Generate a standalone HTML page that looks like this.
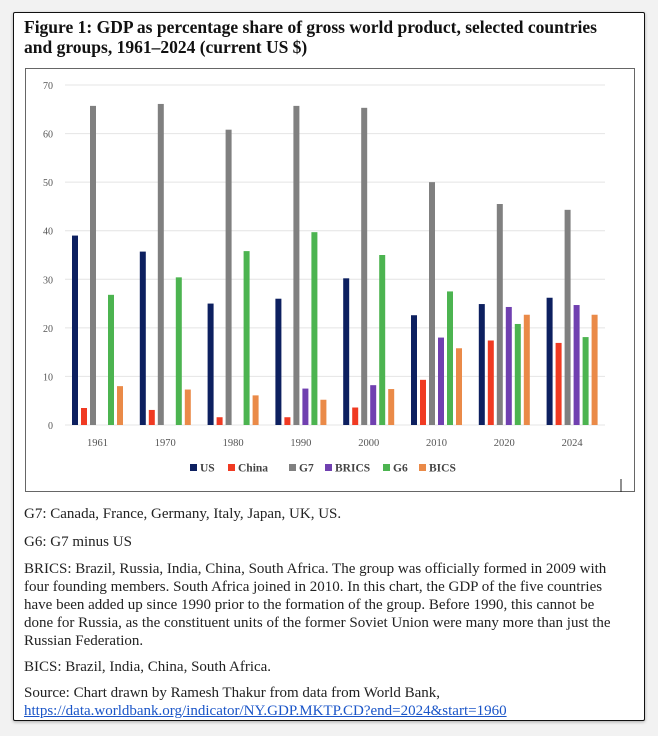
<!DOCTYPE html>
<html><head><meta charset="utf-8"><style>
body{margin:0;background:#f2f2f2;width:658px;height:736px;overflow:hidden;font-family:"Liberation Serif",serif;}
#frame{position:absolute;left:13px;top:12px;width:630px;height:707px;background:#fff;border:1.5px solid #111;border-radius:2px;box-shadow:0 1px 3px rgba(0,0,0,.3);}
#title{position:absolute;left:10px;top:4px;width:640px;white-space:nowrap;font-weight:bold;font-size:17.5px;line-height:20px;color:#111;}
#chartbox{position:absolute;left:11px;top:55px;width:608px;height:422px;border:1px solid #666;}
.note{position:absolute;left:10px;width:640px;white-space:nowrap;font-size:15px;letter-spacing:0px;line-height:18px;color:#222;}
a{color:#1a55c8;}
</style></head><body>
<div id="frame">
<div id="title">Figure 1: GDP as percentage share of gross world product, selected countries<br>and groups, 1961–2024 (current US $)</div>
<div id="chartbox"></div>
<div class="note" style="top:492px">G7: Canada, France, Germany, Italy, Japan, UK, US.</div>
<div class="note" style="top:520px">G6: G7 minus US</div>
<div class="note" style="top:547px">BRICS: Brazil, Russia, India, China, South Africa. The group was officially formed in 2009 with<br>four founding members. South Africa joined in 2010. In this chart, the GDP of the five countries<br>have been added up since 1990 prior to the formation of the group. Before 1990, this cannot be<br>done for Russia, as the constituent units of the former Soviet Union were many more than just the<br>Russian Federation.</div>
<div class="note" style="top:645px">BICS: Brazil, India, China, South Africa.</div>
<div class="note" style="top:671px">Source: Chart drawn by Ramesh Thakur from data from World Bank,<br><a style="text-decoration:underline">https://data.worldbank.org/indicator/NY.GDP.MKTP.CD?end=2024&amp;start=1960</a></div>
</div>
<svg id="chart" width="658" height="736" style="position:absolute;left:0;top:0"></svg>
<script>
const categories=["1961","1970","1980","1990","2000","2010","2020","2024"];
const seriesNames=["US","China","G7","BRICS","G6","BICS"];
const seriesColors=["#0d2060","#f03a22","#808080","#7040b0","#4cb450","#ea8a48"];
const usVals=[39,35.7,25,26,30.2,22.6,24.9,26.2];
const chinaVals=[3.5,3.1,1.6,1.6,3.6,9.3,17.4,16.9];
const g7Vals=[65.7,66.1,60.8,65.7,65.3,50,45.5,44.3];
const bricsVals=[null,null,null,7.5,8.2,18,24.3,24.7];
const g6Vals=[26.8,30.4,35.8,39.7,35,27.5,20.8,18.1];
const bicsVals=[8,7.3,6.1,5.2,7.4,15.8,22.7,22.7];
const yTicks=[0,10,20,30,40,50,60,70];
const series=[usVals,chinaVals,g7Vals,bricsVals,g6Vals,bicsVals];
const NS="http://www.w3.org/2000/svg",svg=document.getElementById('chart');
function y(v){return 425-v*(340/70);}
function xc(i){return 97.5+i*67.8;}
function mk(t,a){const e=document.createElementNS(NS,t);for(const k in a)e.setAttribute(k,a[k]);svg.appendChild(e);return e;}
yTicks.forEach(t=>{
 const l=mk('line',{x1:65,x2:605,y1:y(t),y2:y(t),stroke:'#e4e4e4','stroke-width':1});
 
 
 const tx=mk('text',{x:53,y:y(t)+4,'text-anchor':'end','font-size':10,fill:'#555','font-family':'Liberation Serif'});
 tx.textContent=t;
 
 
});
categories.forEach((c,i)=>{
 series.forEach((s,j)=>{
  const v=s[i]; if(v==null)return;
  const r=mk('rect',{x:xc(i)-25.5+j*9,y:y(v),width:6,height:y(0)-y(v),fill:seriesColors[j]});
  
  
 });
 const tx=mk('text',{x:xc(i),y:446,'text-anchor':'middle','font-size':10.5,fill:'#555','font-family':'Liberation Serif'});
 tx.textContent=c;
 
 
});
const legX=[190,228,289,325,383,419];
seriesNames.forEach((n,j)=>{
 const g=mk('g',{});
 
 
 const r=document.createElementNS(NS,'rect');r.setAttribute('x',legX[j]);r.setAttribute('y',464);r.setAttribute('width',7);r.setAttribute('height',7);r.setAttribute('fill',seriesColors[j]);g.appendChild(r);
 const t=document.createElementNS(NS,'text');t.setAttribute('x',legX[j]+10);t.setAttribute('y',471.5);t.setAttribute('font-size',11.5);t.setAttribute('font-weight','bold');t.setAttribute('fill','#444');t.setAttribute('font-family','Liberation Serif');t.textContent=n;g.appendChild(t);
});
const tk=mk('line',{x1:621,x2:621,y1:479,y2:492,stroke:'#222','stroke-width':1});


</script>
</body></html>
